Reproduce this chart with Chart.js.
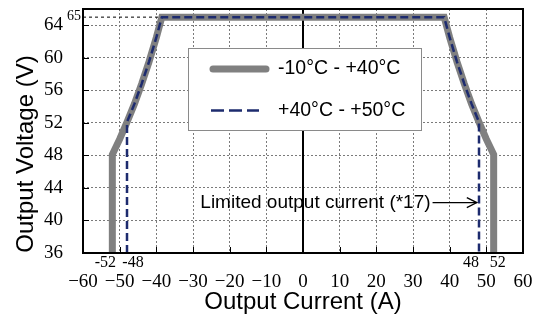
<!DOCTYPE html>
<html>
<head>
<meta charset="utf-8">
<script src="https://cdn.jsdelivr.net/npm/chart.js@4.4.0/dist/chart.umd.min.js"></script>
<style>
  html, body { margin: 0; padding: 0; background: #fff; }
  #wrap { width: 535px; height: 320px; }
</style>
</head>
<body>
<div id="wrap"><canvas id="chart"></canvas></div>
<script>
// output characteristic, values

// -10..+40 degC envelope (A, V)
const wideCurrent = [-52, -52, -50, -48, -46, -44, -42, -40, -38.5, 38.5, 40, 42, 44, 46, 48, 50, 52, 52];
const wideVoltage = [36, 48.1, 50, 52.1, 54.3, 56.8, 59.5, 62.5, 65, 65, 62.5, 59.5, 56.8, 54.3, 52.1, 50, 48.1, 36];

// +40..+50 degC envelope
const hotCurrent = [-48, -48, -46, -44, -42, -40, -38.5, 38.5, 40, 42, 44, 46, 48, 48];
const hotVoltage = [36, 52.1, 54.3, 56.8, 59.5, 62.5, 65, 65, 62.5, 59.5, 56.8, 54.3, 52.1, 36];

// 65 V reference and the zero current axis
const refCurrent = [-60, -38.5];
const refVoltage = [65, 65];
const zeroCurrent = [0, 0];
const zeroVoltage = [36, 66];

const xTicks = [-60, -50, -40, -30, -20, -10, 0, 10, 20, 30, 40, 50, 60];
const yTicks = [36, 40, 44, 48, 52, 56, 60, 64];
const limitLabels = [-52, -48, 48, 52];
const refLabel = '65';
const seriesNames = ['-10°C - +40°C', '+40°C - +50°C'];
const noteText = 'Limited output current (*17)';

const GRAY = '#808080';
const NAVY = '#1d2b6e';
const SANS = "'Liberation Sans', Arial, sans-serif";
const SERIF = "'Liberation Serif', 'Times New Roman', serif";

function pts(xs, ys) {
  return xs.map((x, i) => ({ x: x, y: ys[i] }));
}

const minus = v => String(v).replace('-', '\u2212');

// legend, frame, labels and the arrow note
const decor = {
  id: 'decor',
  afterDraw(chart) {
    const ctx = chart.ctx;
    const a = chart.chartArea;
    const xs = chart.scales.x;
    const ys = chart.scales.y;
    ctx.save();

    // inner tick marks
    ctx.strokeStyle = '#000';
    ctx.lineWidth = 1;
    xTicks.forEach(v => {
      const px = Math.round(xs.getPixelForValue(v)) + 0.5;
      ctx.beginPath(); ctx.moveTo(px, a.bottom); ctx.lineTo(px, a.bottom - 6); ctx.stroke();
    });
    yTicks.forEach(v => {
      const py = Math.round(ys.getPixelForValue(v)) + 0.5;
      ctx.beginPath(); ctx.moveTo(a.left, py); ctx.lineTo(a.left + 6, py); ctx.stroke();
    });

    // frame
    ctx.lineWidth = 2;
    ctx.strokeRect(a.left, a.top, a.right - a.left, a.bottom - a.top);

    // legend box
    const lx = 188, ly = 48, lw = 233, lh = 82;
    ctx.fillStyle = '#fff';
    ctx.fillRect(lx, ly, lw, lh);
    ctx.strokeStyle = '#8a8a8a';
    ctx.lineWidth = 1;
    ctx.strokeRect(lx + 0.5, ly + 0.5, lw, lh);

    ctx.lineCap = 'round';
    ctx.strokeStyle = GRAY;
    ctx.lineWidth = 7;
    ctx.beginPath(); ctx.moveTo(213, 69); ctx.lineTo(266, 69); ctx.stroke();
    ctx.lineCap = 'butt';
    ctx.strokeStyle = NAVY;
    ctx.lineWidth = 2.5;
    ctx.setLineDash([13, 5]);
    ctx.beginPath(); ctx.moveTo(211, 110.5); ctx.lineTo(259, 110.5); ctx.stroke();
    ctx.setLineDash([]);

    ctx.fillStyle = '#000';
    ctx.font = '19.5px ' + SANS;
    ctx.textAlign = 'left';
    ctx.textBaseline = 'middle';
    ctx.fillText(seriesNames[0], 278, 69);
    ctx.fillText(seriesNames[1], 278, 111);

    // note with arrow
    ctx.font = '19px ' + SANS;
    const ny = ys.getPixelForValue(42.2);
    const nx = xs.getPixelForValue(-28);
    ctx.fillText(noteText, nx, ny);
    const tx = nx + ctx.measureText(noteText).width + 2;
    const tip = xs.getPixelForValue(47.4);
    ctx.strokeStyle = '#000';
    ctx.lineWidth = 1.3;
    ctx.beginPath(); ctx.moveTo(tx, ny); ctx.lineTo(tip, ny); ctx.stroke();
    ctx.beginPath(); ctx.moveTo(tip - 10, ny - 5); ctx.lineTo(tip, ny); ctx.lineTo(tip - 10, ny + 5); ctx.stroke();

    // current limit labels under the axis
    const shift = [-7, 6, -8, 4];
    ctx.font = '16px ' + SERIF;
    ctx.textAlign = 'center';
    ctx.textBaseline = 'alphabetic';
    limitLabels.forEach((v, i) => {
      ctx.fillText(String(v), xs.getPixelForValue(v) + shift[i], 267);
    });

    // 65 V label
    ctx.font = '14px ' + SERIF;
    ctx.textAlign = 'right';
    ctx.fillText(refLabel, a.left - 2, 20);

    // y title
    ctx.font = '24px ' + SANS;
    ctx.textAlign = 'center';
    ctx.translate(33, 154);
    ctx.rotate(-Math.PI / 2);
    ctx.fillText('Output Voltage (V)', 0, 0);
    ctx.restore();
  }
};

const lineSet = (label, data, color, width, dash) => ({
  label: label,
  data: data,
  showLine: true,
  borderColor: color,
  backgroundColor: color,
  borderWidth: width,
  borderDash: dash,
  borderJoinStyle: 'miter',
  pointRadius: 0,
  fill: false,
  tension: 0
});

new Chart(document.getElementById('chart'), {
  type: 'scatter',
  data: {
    datasets: [
      lineSet(seriesNames[1], pts(hotCurrent, hotVoltage), NAVY, 2.5, [8, 4]),
      lineSet(seriesNames[0], pts(wideCurrent, wideVoltage), GRAY, 7, []),
      lineSet('65 V', pts(refCurrent, refVoltage), '#000', 1, [3, 3]),
      lineSet('0 A', pts(zeroCurrent, zeroVoltage), '#000', 2, [])
    ]
  },
  options: {
    responsive: true,
    maintainAspectRatio: false,
    animation: false,
    layout: { padding: { top: 9, right: 12, left: 0, bottom: 0 } },
    plugins: {
      legend: { display: false },
      tooltip: { enabled: false }
    },
    scales: {
      x: {
        type: 'linear',
        min: -60,
        max: 60,
        afterBuildTicks: s => { s.ticks = xTicks.map(v => ({ value: v })); },
        afterFit: s => { s.height = 67; s.paddingLeft = 0; s.paddingRight = 0; },
        ticks: {
          color: '#000',
          font: { family: SERIF, size: 19 },
          padding: 18,
          maxRotation: 0,
          callback: minus
        },
        grid: { color: '#7a7a7a', lineWidth: 1, drawTicks: false },
        border: { display: false, dash: [2, 2] },
        title: {
          display: true,
          text: 'Output Current (A)',
          color: '#000',
          font: { family: SANS, size: 24 },
          padding: { top: 0, bottom: 3 }
        }
      },
      y: {
        type: 'linear',
        min: 36,
        max: 66,
        afterBuildTicks: s => { s.ticks = yTicks.map(v => ({ value: v })); },
        afterFit: s => { s.width = 83; s.paddingTop = 0; s.paddingBottom = 0; },
        ticks: {
          color: '#000',
          font: { family: SERIF, size: 19 },
          padding: 20
        },
        grid: { color: '#7a7a7a', lineWidth: 1, drawTicks: false },
        border: { display: false, dash: [2, 2] }
      }
    }
  },
  plugins: [decor]
});
</script>
</body>
</html>
